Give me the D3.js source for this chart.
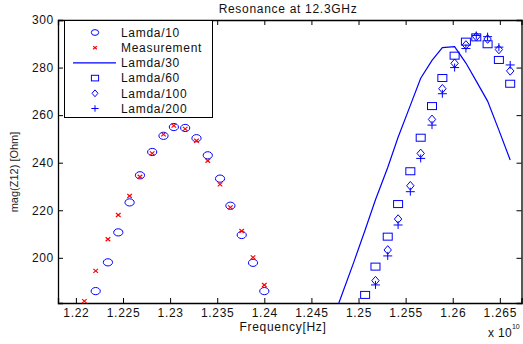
<!DOCTYPE html>
<html>
<head>
<meta charset="utf-8">
<script src="https://cdn.jsdelivr.net/npm/d3@7"></script>
<style>
  body { margin: 0; background: #fff; }
  svg { display: block; font-family: Arial, "Liberation Sans", sans-serif; }
</style>
</head>
<body>
<div id="chart"></div>
<script>
// frequencies in units of 1e10 Hz
const freqLeft = [1.2209, 1.2221, 1.2234, 1.2245, 1.2257, 1.2268, 1.2281, 1.2293, 1.2304, 1.2316, 1.2328, 1.2340, 1.2353, 1.2364, 1.2376, 1.2388, 1.2400];
const lamda10 = [null, 186.0, 198.1, 210.7, 223.3, 234.7, 244.5, 251.3, 255.0, 254.6, 250.3, 243.1, 233.3, 221.9, 209.6, 197.9, 186.0];
const measurement = [181.8, 194.5, 207.8, 218.0, 226.0, 234.1, 243.9, 251.9, 255.6, 254.2, 249.2, 240.8, 230.9, 221.2, 211.3, 200.2, 188.6];

const freqRight = [1.2471, 1.2483, 1.2495, 1.2507, 1.2518, 1.2531, 1.2542, 1.2555, 1.2566, 1.2578, 1.2589, 1.2602, 1.2614, 1.2625, 1.2637, 1.2649, 1.2661];
const lamda30 = [172.2, 185.2, 198.2, 211.7, 224.4, 238.0, 250.7, 264.1, 275.5, 283.0, 288.4, 288.8, 281.9, 274.3, 265.9, 253.7, 241.1];
const lamda60 = [null, null, null, 184.4, 196.3, 208.9, 222.6, 236.4, 250.5, 263.8, 275.6, 285.0, 290.9, 292.7, 289.8, 283.2, 273.2];
const lamda100 = [null, null, null, null, 190.4, 203.3, 216.3, 230.3, 243.9, 258.2, 271.1, 281.8, 289.5, 293.0, 292.0, 287.6, 278.6];
const lamda200 = [null, null, null, null, 188.6, 200.8, 213.8, 227.8, 241.8, 255.8, 269.0, 280.0, 288.0, 293.5, 293.0, 288.6, 281.1];

const xTicks = [1.22, 1.225, 1.23, 1.235, 1.24, 1.245, 1.25, 1.255, 1.26, 1.265];
const yTicks = [200, 220, 240, 260, 280, 300];
const legendNames = ["Lamda/10", "Measurement", "Lamda/30", "Lamda/60", "Lamda/100", "Lamda/200"];

const W = 523, H = 344;
const L = 58, R = 521.5, T = 20, B = 303;
const blue = "#0000ff", red = "#ff0000";

const svg = d3.select("#chart").append("svg")
    .attr("width", W).attr("height", H);

const x = d3.scaleLinear().domain([1.2181, 1.2673]).range([L, R]);
const y = d3.scaleLinear().domain([181, 300]).range([B, T]);

svg.append("defs").append("clipPath").attr("id", "clip")
    .append("rect").attr("x", L).attr("y", T).attr("width", R - L).attr("height", B - T);

// axes (ticks point inward, box on)
const fmt = d => String(+d.toFixed(3));
svg.append("g").attr("transform", `translate(0,${B})`)
    .call(d3.axisBottom(x).tickValues(xTicks).tickSize(-5).tickPadding(5).tickFormat(fmt));
svg.append("g").attr("transform", `translate(0,${T})`)
    .call(d3.axisTop(x).tickValues(xTicks).tickSize(-5).tickFormat(""));
svg.append("g").attr("transform", `translate(${L},0)`)
    .call(d3.axisLeft(y).tickValues(yTicks).tickSize(-5).tickPadding(4));
svg.append("g").attr("transform", `translate(${R},0)`)
    .call(d3.axisRight(y).tickValues(yTicks).tickSize(-5).tickFormat(""));
svg.selectAll(".domain").attr("stroke", "#000").attr("stroke-width", 1.3);
svg.selectAll(".tick line").attr("stroke", "#000");
svg.selectAll(".tick text").attr("fill", "#111").style("font-size", "12px")
    .style("letter-spacing", "0.7px").style("font-family", "Arial, 'Liberation Sans', sans-serif");

// labels
svg.append("text").attr("x", 288).attr("y", 13).attr("text-anchor", "middle")
    .style("font-size", "12px").style("letter-spacing", "0.7px").attr("fill", "#111")
    .text("Resonance at 12.3GHz");
svg.append("text").attr("x", 283).attr("y", 331).attr("text-anchor", "middle")
    .style("font-size", "12px").style("letter-spacing", "0.7px").attr("fill", "#111")
    .text("Frequency[Hz]");
svg.append("text").attr("transform", "translate(18,172) rotate(-90)").attr("text-anchor", "middle")
    .style("font-size", "11px").attr("fill", "#222")
    .text("mag(Z12) [Ohm]");
const ex = svg.append("text").attr("x", 488).attr("y", 337)
    .style("font-size", "12px").attr("fill", "#111");
ex.append("tspan").style("letter-spacing", "0.3px").text("x 10");
ex.append("tspan").attr("dy", -8).style("font-size", "7px").text("10");

// marker shapes
function marker(g, type, cx, cy, s) {
  s = s || 1;
  if (type === "circle") {
    g.append("ellipse").attr("cx", cx).attr("cy", cy).attr("rx", 4.6 * s).attr("ry", 3.6 * s)
      .attr("fill", "none").attr("stroke", blue);
  } else if (type === "x") {
    const a = 2.3 * s, b = 2 * s;
    g.append("path").attr("d", `M${cx - a},${cy - b}L${cx + a},${cy + b}M${cx - a},${cy + b}L${cx + a},${cy - b}`)
      .attr("stroke", red).attr("stroke-width", 1.2).attr("fill", "none");
  } else if (type === "square") {
    g.append("rect").attr("x", cx - 4.5 * s).attr("y", cy - 3.5 * s).attr("width", 9 * s).attr("height", 7 * s)
      .attr("fill", "none").attr("stroke", blue);
  } else if (type === "diamond") {
    const a = 3.7 * s, b = 4.3 * s;
    g.append("path").attr("d", `M${cx},${cy - b}L${cx + a},${cy}L${cx},${cy + b}L${cx - a},${cy}Z`)
      .attr("fill", "none").attr("stroke", blue);
  } else if (type === "plus") {
    const a = 4.5 * s, b = 4 * s;
    g.append("path").attr("d", `M${cx - a},${cy}L${cx + a},${cy}M${cx},${cy - b}L${cx},${cy + b}`)
      .attr("fill", "none").attr("stroke", blue);
  }
}

function drawSeries(freqs, vals, type) {
  const g = svg.append("g");
  freqs.forEach((f, i) => {
    if (vals[i] != null) marker(g, type, x(f), y(vals[i]));
  });
}

// Lamda/30 line
const line = d3.line().x((d, i) => x(freqRight[i])).y(d => y(d));
svg.append("path").datum(lamda30)
    .attr("clip-path", "url(#clip)")
    .attr("d", line).attr("fill", "none").attr("stroke", blue).attr("stroke-width", 1.2);

drawSeries(freqLeft, lamda10, "circle");
drawSeries(freqLeft, measurement, "x");
drawSeries(freqRight, lamda60, "square");
drawSeries(freqRight, lamda100, "diamond");
drawSeries(freqRight, lamda200, "plus");

// legend
const lg = svg.append("g");
lg.append("rect").attr("x", 64.5).attr("y", 20.5).attr("width", 148).attr("height", 97)
    .attr("fill", "#fff").attr("stroke", "#000").attr("stroke-width", 1);
const legendTypes = ["circle", "x", "line", "square", "diamond", "plus"];
legendNames.forEach((name, i) => {
  const ly = 32.5 + i * 15.2;
  if (legendTypes[i] === "line") {
    lg.append("line").attr("x1", 73).attr("x2", 116).attr("y1", ly).attr("y2", ly)
      .attr("stroke", blue).attr("stroke-width", 1.2);
  } else {
    marker(lg, legendTypes[i], 95, ly, 0.8);
  }
  lg.append("text").attr("x", 121).attr("y", ly + 4.3)
    .style("font-size", "12px").style("letter-spacing", "0.7px").attr("fill", "#111")
    .text(name);
});
</script>
</body>
</html>
